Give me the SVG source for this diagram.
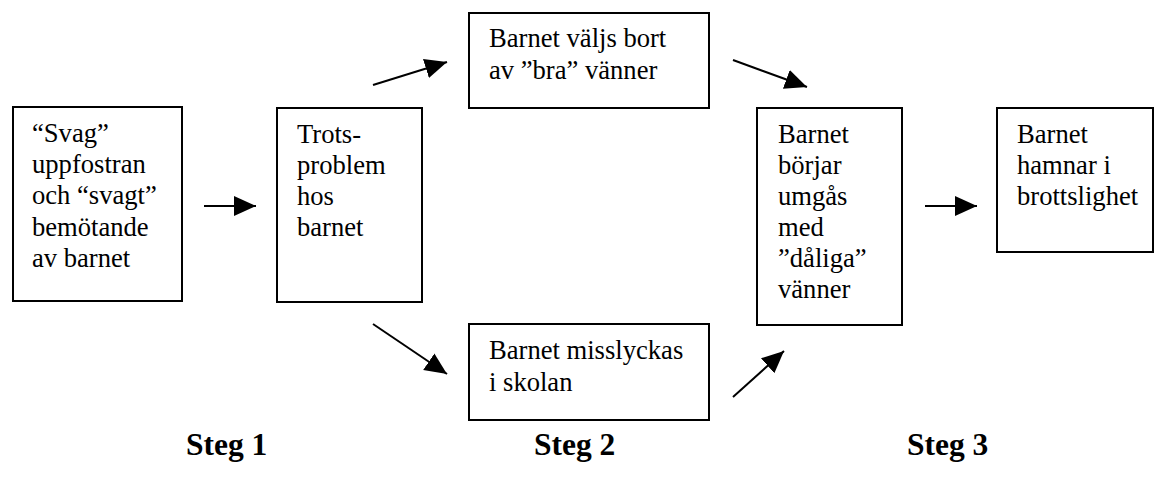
<svg xmlns="http://www.w3.org/2000/svg" width="1155" height="493" viewBox="0 0 1155 493">
<style>
.box{fill:#fff;stroke:#000;stroke-width:2}
.t{font-family:'Liberation Serif','Times New Roman',Times,serif;font-size:26.6px;fill:#000}
.s{font-family:'Liberation Serif','Times New Roman',Times,serif;font-size:31.5px;font-weight:bold;fill:#000}
.c{stroke:#000;stroke-width:2;fill:none;marker-end:url(#ah)}
</style>
<defs>
<marker id="ah" markerUnits="userSpaceOnUse" markerWidth="24" markerHeight="24" refX="22" refY="10" orient="auto">
<path d="M0,0 L22,10 L0,20 Z" fill="#000"/>
</marker>
</defs>
<rect width="1155" height="493" fill="#fff"/>
<g id="connectors">
<line class="c" x1="204" y1="206" x2="256" y2="206"/>
<line class="c" x1="373" y1="85" x2="447" y2="62"/>
<line class="c" x1="373" y1="324" x2="447" y2="374"/>
<line class="c" x1="733" y1="60" x2="807" y2="87"/>
<line class="c" x1="733" y1="397" x2="784" y2="351"/>
<line class="c" x1="925" y1="206" x2="977" y2="206"/>
</g>
<g id="n1">
<rect class="box" x="13" y="107" width="169" height="194"/>
<text class="t"><tspan x="32" y="142">“Svag”</tspan><tspan x="32" y="173.2">uppfostran</tspan><tspan x="32" y="204.4">och “svagt”</tspan><tspan x="32" y="235.6">bemötande</tspan><tspan x="32" y="266.8">av barnet</tspan></text>
</g>
<g id="n2">
<rect class="box" x="277" y="108" width="145" height="194"/>
<text class="t"><tspan x="297" y="143">Trots-</tspan><tspan x="297" y="174">problem</tspan><tspan x="297" y="205">hos</tspan><tspan x="297" y="236">barnet</tspan></text>
</g>
<g id="n3">
<rect class="box" x="469" y="13" width="240" height="95"/>
<text class="t"><tspan x="489" y="47">Barnet väljs bort</tspan><tspan x="489" y="79">av ”bra” vänner</tspan></text>
</g>
<g id="n4">
<rect class="box" x="469" y="324" width="240" height="96"/>
<text class="t"><tspan x="489" y="359">Barnet misslyckas</tspan><tspan x="489" y="391">i skolan</tspan></text>
</g>
<g id="n5">
<rect class="box" x="757" y="108" width="145" height="217"/>
<text class="t"><tspan x="778" y="143">Barnet</tspan><tspan x="778" y="174">börjar</tspan><tspan x="778" y="205">umgås</tspan><tspan x="778" y="236">med</tspan><tspan x="778" y="267">”dåliga”</tspan><tspan x="778" y="298">vänner</tspan></text>
</g>
<g id="n6">
<rect class="box" x="997" y="108" width="156" height="144"/>
<text class="t"><tspan x="1017" y="143">Barnet</tspan><tspan x="1017" y="174">hamnar i</tspan><tspan x="1017" y="205">brottslighet</tspan></text>
</g>
<g id="labels">
<text class="s" x="186" y="455">Steg 1</text>
<text class="s" x="534" y="455">Steg 2</text>
<text class="s" x="907" y="455">Steg 3</text>
</g>
</svg>
